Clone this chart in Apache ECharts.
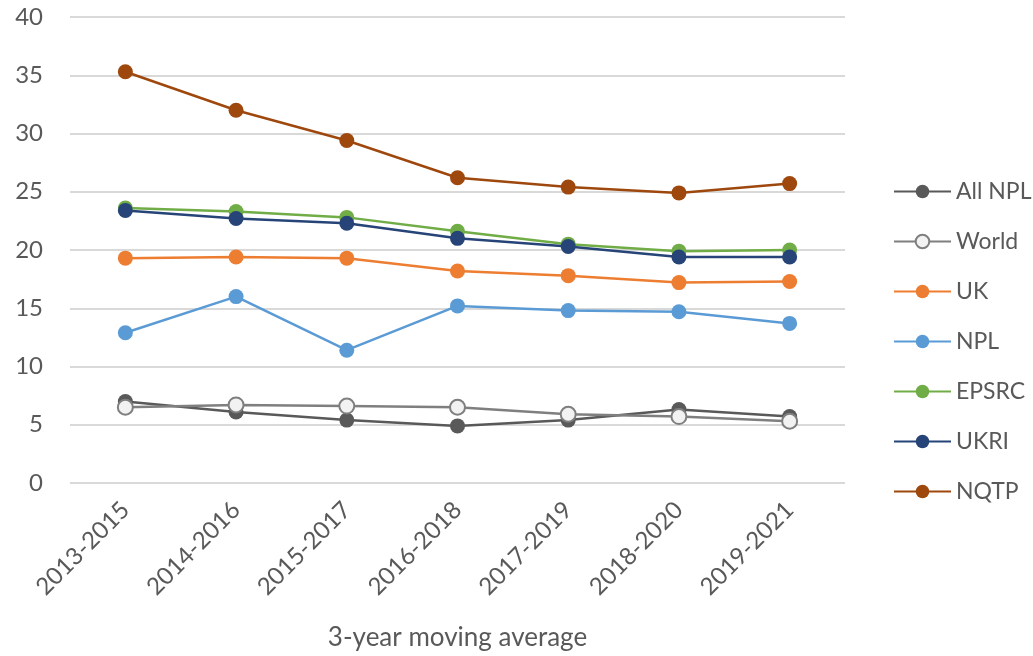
<!DOCTYPE html>
<html>
<head>
<meta charset="utf-8">
<script src="https://cdn.jsdelivr.net/npm/echarts@6/dist/echarts.min.js"></script>
<style>
  html, body { margin: 0; padding: 0; background: #fff; }
  #chart { width: 1033px; height: 656px; }
</style>
</head>
<body>
<div id="chart"></div>
<script>
// 3-year moving average periods
const categories = ['2013-2015', '2014-2016', '2015-2017', '2016-2018', '2017-2019', '2018-2020', '2019-2021'];

const allNPL = [7.0, 6.1, 5.4, 4.9, 5.4, 6.3, 5.7];
const world  = [6.5, 6.7, 6.6, 6.5, 5.9, 5.7, 5.3];
const uk     = [19.3, 19.4, 19.3, 18.2, 17.8, 17.2, 17.3];
const npl    = [12.9, 16.0, 11.4, 15.2, 14.8, 14.7, 13.7];
const epsrc  = [23.6, 23.3, 22.8, 21.6, 20.5, 19.9, 20.0];
const ukri   = [23.4, 22.7, 22.3, 21.0, 20.3, 19.4, 19.4];
const nqtp   = [35.3, 32.0, 29.4, 26.2, 25.4, 24.9, 25.7];

const yTicks = { min: 0, max: 40, interval: 5 };

const FONT = 'Lato, "Open Sans", sans-serif';
const TEXT = '#595959';

function lineSeries(name, data, color, fill) {
  return {
    name: name,
    type: 'line',
    data: data,
    symbol: 'circle',
    symbolSize: 15,
    lineStyle: { color: color, width: 2.5 },
    itemStyle: { color: fill || color, borderColor: color, borderWidth: fill ? 2 : 0 },
    emphasis: { disabled: true },
    animation: false
  };
}

const chart = echarts.init(document.getElementById('chart'));
chart.setOption({
  backgroundColor: '#ffffff',
  animation: false,
  grid: { left: 70, right: 188, top: 17, bottom: 173 },
  legend: {
    orient: 'vertical',
    left: 888,
    top: 175,
    itemWidth: 57,
    itemHeight: 17,
    itemGap: 27,
    textStyle: { color: TEXT, fontSize: 23, fontFamily: FONT },
    data: ['All NPL', 'World', 'UK', 'NPL', 'EPSRC', 'UKRI', 'NQTP']
  },
  xAxis: {
    type: 'category',
    data: categories,
    boundaryGap: true,
    axisLine: { show: false },
    axisTick: { show: false },
    axisLabel: { rotate: 45, color: TEXT, fontSize: 24, fontFamily: FONT, margin: 23 },
    name: '3-year moving average',
    nameLocation: 'middle',
    nameGap: 142,
    nameTextStyle: { color: TEXT, fontSize: 26, fontFamily: FONT }
  },
  yAxis: {
    type: 'value',
    min: yTicks.min,
    max: yTicks.max,
    interval: yTicks.interval,
    axisLine: { show: false },
    axisTick: { show: false },
    axisLabel: { color: TEXT, fontSize: 24, fontFamily: FONT, margin: 27 },
    splitLine: { lineStyle: { color: '#d9d9d9', width: 2 } }
  },
  series: [
    lineSeries('All NPL', allNPL, '#595959'),
    lineSeries('World', world, '#7f7f7f', '#f2f2f2'),
    lineSeries('UK', uk, '#ED7D31'),
    lineSeries('NPL', npl, '#5B9BD5'),
    lineSeries('EPSRC', epsrc, '#70AD47'),
    lineSeries('UKRI', ukri, '#264478'),
    lineSeries('NQTP', nqtp, '#9E480E')
  ]
});
</script>
</body>
</html>
